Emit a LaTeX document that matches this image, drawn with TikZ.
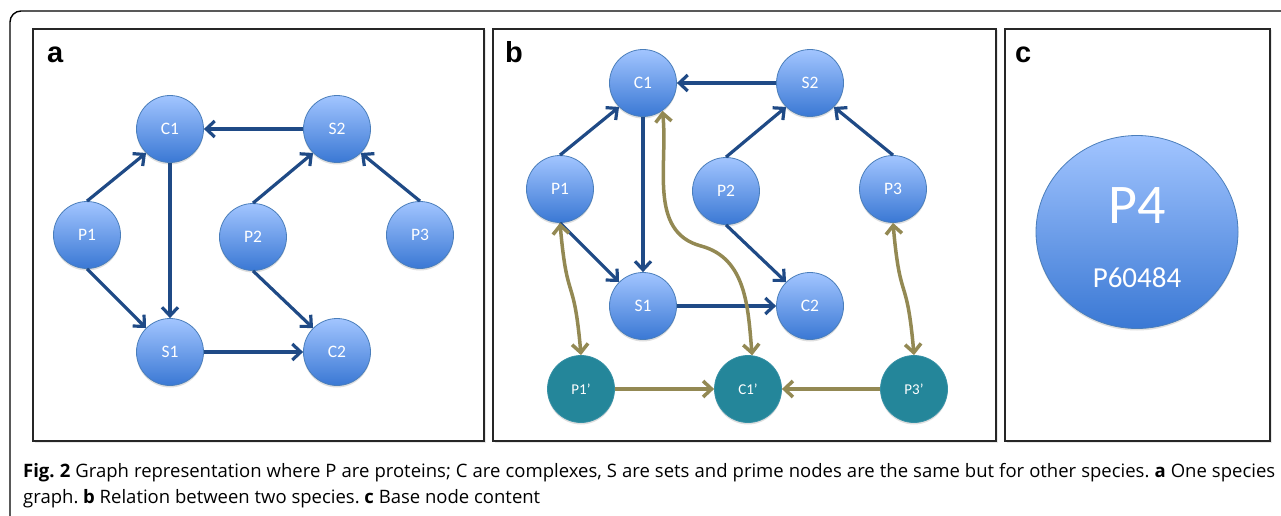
\documentclass[tikz,border=0pt]{standalone}
\usepackage{fontspec}
\usepackage{tikz}
\usetikzlibrary{
  arrows.meta,
  shapes.geometric,
  shadows
}
\newfontfamily\calibrifont{Carlito}
\newfontfamily\letterfont{Liberation Sans}
\newfontfamily\captionfont{Open Sans}
\definecolor{nodetop}{HTML}{A2C5FF}
\definecolor{nodebottom}{HTML}{3A78D4}
\definecolor{nodeedge}{HTML}{4A7EBB}
\definecolor{primefill}{HTML}{24869A}
\definecolor{primeedge}{HTML}{3590A5}
\definecolor{linkblue}{HTML}{1F4A86}
\definecolor{linkolive}{HTML}{938953}
\tikzset{
  node base/.style={circle,minimum size=67pt,inner sep=0pt,line width=0.8pt,text=white,
    drop shadow={opacity=0.25,shadow xshift=0pt,shadow yshift=-2pt}},
  species node/.style={node base,draw=nodeedge,top color=nodetop,bottom color=nodebottom,
    font=\calibrifont\fontsize{17.5}{17.5}\selectfont},
  prime node/.style={node base,draw=primeedge,fill=primefill,
    font=\calibrifont\fontsize{15}{15}\selectfont},
  blue link/.style={->,draw=linkblue,line width=3.2pt},
  olive link/.style={draw=linkolive,line width=3.5pt},
  panel/.style={draw=black!85,fill=white,line width=2pt,
    drop shadow={opacity=0.18,shadow xshift=1.5pt,shadow yshift=-1.5pt}},
  panel letter/.style={anchor=base west,inner sep=0pt,font=\letterfont\bfseries\fontsize{29}{29}\selectfont},
  caption line/.style={anchor=base west,inner sep=0pt,font=\captionfont\fontsize{18.5}{18.5}\selectfont},
  pics/species graph/.style={code={
    \node[species node] (C1) at (0,0) {C1};
    \node[species node] (S2) at (167,0) {S2};
    \node[species node] (P1) at (-83,106) {P1};
    \node[species node] (P2) at (83,108) {P2};
    \node[species node] (P3) at (250,106) {P3};
    \node[species node] (S1) at (0,223) {S1};
    \node[species node] (C2) at (167,223) {C2};
    \draw[blue link] (P1.north) -- (C1.south west);
    \draw[blue link] (C1.south) -- (S1.north);
    \draw[blue link] (S2.west) -- (C1.east);
    \draw[blue link] (P2.north) -- (S2.south west);
    \draw[blue link] (P3.north) -- (S2.south east);
    \draw[blue link] (P1.south) -- (S1.north west);
    \draw[blue link] (P2.south) -- (C2.north west);
    \draw[blue link] (S1.east) -- (C2.west);
  }},
}
\frenchspacing

\begin{document}
\begin{tikzpicture}[
  x=1pt,y=-1pt,
  >={Straight Barb[length=8.5pt,width=16pt]},
]
\useasboundingbox (0,0) rectangle (1281,516);
\fill[white] (0,0) rectangle (1281,516);
\draw[line width=1.4pt,rounded corners=11pt] (10,516) -- (10,11) -- (1281,11);

\draw[panel] (33,29) rectangle (484,441);
\draw[panel] (493,29) rectangle (996,441);
\draw[panel] (1005,29) rectangle (1270,441);
\node[panel letter] (letter-a) at (47,63) {a};
\node[panel letter] (letter-b) at (505,63) {b};
\node[panel letter] (letter-c) at (1015,63) {c};

% a
\pic (a-) at (170,129) {species graph};

% b
\pic (b-) at (643,83) {species graph};
\node[prime node] (P1p) at (581,389) {P1’};
\node[prime node] (C1p) at (748,389) {C1’};
\node[prime node] (P3p) at (914,389) {P3’};
\coordinate (bend) at (701,246);
\draw[olive link,<->] (b-P1.south) to[out=-85,in=95,looseness=1.6] (P1p.north);
\draw[olive link,<->] (b-P3.south) to[out=-85,in=95,looseness=1.6] (P3p.north);
\draw[olive link,<->] (b-C1.-55) to[out=-84,in=165] (bend) to[out=-15,in=95] (C1p.83);
\draw[olive link,->] (P1p.east) -- (C1p.west);
\draw[olive link,->] (P3p.west) -- (C1p.east);

% c
\node[ellipse,minimum width=202pt,minimum height=193pt,draw=nodeedge,line width=0.8pt,
  top color=nodetop,bottom color=nodebottom,
  drop shadow={opacity=0.25,shadow xshift=0pt,shadow yshift=-2pt}] (P4) at (1137,232) {};
\node[text=white,font=\calibrifont\fontsize{56}{56}\selectfont] (P4-name) at (1137,206) {P4};
\node[text=white,font=\calibrifont\fontsize{29}{29}\selectfont] (P4-id) at (1137,278) {P60484};

\node[caption line] (caption-1) at (23,477) {\makebox[1252pt][s]{\textbf{Fig. 2} Graph representation where P are proteins; C are complexes, S are sets and prime nodes are the same but for other species. \textbf{a} One species}};
\node[caption line] (caption-2) at (23,503) {graph. \textbf{b} Relation between two species. \textbf{c} Base node content};
\end{tikzpicture}
\end{document}
